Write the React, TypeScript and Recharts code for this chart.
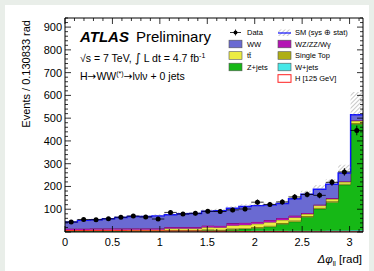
import React from 'react';
import { ComposedChart, Area, Line, Scatter, XAxis, YAxis, ErrorBar, ReferenceLine } from 'recharts';

// ---- data (24 bins of width pi/24 in delta-phi_ll) ----
const BIN = Math.PI / 24;
const binEdges = Array.from({ length: 25 }, (_, i) => i * BIN);

const wjets = [2, 2, 2, 2, 2, 2, 2, 2, 3, 3, 3, 3, 3, 4, 4, 5, 5, 5, 6, 6, 6, 7, 7, 8];
const zjets = [2, 2, 2, 2, 2, 2, 2, 2, 3, 3, 3, 5, 4, 7, 9, 12, 18, 29, 39, 59, 95, 123, 200, 465];
const stop = [1, 1, 2, 2, 2, 2, 2, 2, 2, 2, 2, 3, 3, 4, 4, 5, 5, 5, 5, 5, 5, 5, 5, 6];
const ttbar = [4, 4, 4, 4, 4, 4, 4, 4, 7, 7, 7, 10, 10, 14, 14, 14, 15, 14, 14, 9, 10, 10, 8, 9];
const vv = [6, 6, 6, 6, 6, 6, 6, 6, 7, 7, 7, 8, 8, 10, 10, 9, 10, 9, 8, 5, 5, 4, 3, 3];
const ww = [29, 36, 38, 42, 48, 52, 52, 55, 54, 58, 59, 62, 66, 65, 71, 71, 65, 63, 74, 82, 67, 61, 36, 24];
const uncUp = [4, 5, 5, 5, 6, 6, 6, 7, 7, 7, 7, 8, 8, 9, 10, 10, 10, 11, 13, 15, 18, 22, 36, 100];
const higgs = [6, 6, 6, 6, 6, 5, 5, 5, 4, 4, 4, 3, 3, 3, 2, 2, 2, 2, 1, 1, 1, 1, 1, 1];
const dataObs = [44, 55, 54, 58, 65, 70, 66, 57, 86, 79, 82, 91, 90, 97, 101, 131, 121, 132, 154, 165, 161, 218, 264, 446];

const xTicks = [0, 0.1, 0.2, 0.3, 0.4, 0.5, 0.6, 0.7, 0.8, 0.9, 1, 1.1, 1.2, 1.3, 1.4, 1.5, 1.6, 1.7, 1.8, 1.9, 2, 2.1, 2.2, 2.3, 2.4, 2.5, 2.6, 2.7, 2.8, 2.9, 3, 3.1];
const xLabels: Record<string, string> = { '0': '0', '0.5': '0.5', '1': '1', '1.5': '1.5', '2': '2', '2.5': '2.5', '3': '3' };
const yTicks = Array.from({ length: 48 }, (_, i) => i * 20);
const yLabels = [100, 200, 300, 400, 500, 600, 700, 800, 900];

// ---- layout ----
const W = 374;
const H = 271;
const M = { top: 18, right: 11, left: 0, bottom: 0 };
const YW = 65;
const XH = 39;
const PLOT_TOP = M.top;
const PLOT_RIGHT = W - M.right;
const FONT = 'Liberation Sans, Arial, Helvetica, sans-serif';
const SYM = 'DejaVu Sans, Liberation Sans, sans-serif';

const histRows = binEdges.map((x, i) => {
  const k = Math.min(i, 23);
  return {
    x,
    wjets: wjets[k],
    zjets: zjets[k],
    stop: stop[k],
    ttbar: ttbar[k],
    vv: vv[k],
    ww: ww[k],
    unc: uncUp[k],
    higgs: higgs[k],
  };
});

const points = dataObs.map((v, i) => ({
  x: binEdges[i] + BIN / 2,
  y: v,
  ey: Math.sqrt(v),
  ex: BIN / 2,
}));

const XTick = (props: any) => {
  const { x, y, payload } = props;
  const v = Number(payload.value);
  const key = String(Math.round(v * 10) / 10);
  const major = xLabels[key] !== undefined;
  const len = major ? 6 : 3;
  return (
    <g>
      <line x1={x} x2={x} y1={y} y2={y - len} stroke="#000" strokeWidth={0.8} />
      <line x1={x} x2={x} y1={PLOT_TOP} y2={PLOT_TOP + len} stroke="#000" strokeWidth={0.8} />
      {major && (
        <text x={x} y={y + 14} textAnchor="middle" fontSize={11} fontFamily={FONT} fill="#000">
          {xLabels[key]}
        </text>
      )}
    </g>
  );
};

const YTick = (props: any) => {
  const { x, y, payload } = props;
  const v = Number(payload.value);
  const major = v % 100 === 0;
  const len = major ? 6 : 3;
  return (
    <g>
      <line x1={x} x2={x + len} y1={y} y2={y} stroke="#000" strokeWidth={0.8} />
      <line x1={PLOT_RIGHT} x2={PLOT_RIGHT - len} y1={y} y2={y} stroke="#000" strokeWidth={0.8} />
      {yLabels.includes(v) && (
        <text x={x - 3} y={y + 4} textAnchor="end" fontSize={11} fontFamily={FONT} fill="#000">
          {v}
        </text>
      )}
    </g>
  );
};

const Dot = (props: any) => {
  const { cx, cy } = props;
  return <circle cx={cx} cy={cy} r={2.5} fill="#000" />;
};

const C = {
  ww: '#6a6ad2',
  tt: '#ecec42',
  z: '#16b816',
  vv: '#b414b4',
  st: '#aeae16',
  w: '#46e8e8',
  h: '#ff2020',
};

const legendLeft = [
  { label: 'WW', fill: C.ww, y: 44 },
  { label: 'tt\u0304', fill: C.tt, y: 55.5 },
  { label: 'Z+jets', fill: C.z, y: 67 },
];
const legendRight = [
  { label: 'WZ/ZZ/W\u03b3', fill: C.vv, y: 44 },
  { label: 'Single Top', fill: C.st, y: 55.5 },
  { label: 'W+jets', fill: C.w, y: 67 },
];

export default function App() {
  return (
    <div style={{ position: 'absolute', left: 0, top: 0, width: W, height: H, background: '#e9eee9', overflow: 'hidden' }}>
      <div style={{ position: 'absolute', left: 5, top: 5, width: 364, height: 266, background: '#fff' }} />
      <svg width={0} height={0} style={{ position: 'absolute' }}>
        <defs>
          <pattern id="hatch" patternUnits="userSpaceOnUse" width="3" height="3" patternTransform="rotate(45)">
            <line x1="0" y1="0" x2="0" y2="3" stroke="#8a8a8a" strokeWidth="0.9" />
          </pattern>
        </defs>
      </svg>
      <div style={{ position: 'absolute', left: 0, top: 0 }}>
        <ComposedChart width={W} height={H} data={histRows} margin={M}>
          <XAxis
            dataKey="x"
            type="number"
            domain={[0, Math.PI]}
            allowDataOverflow
            ticks={xTicks}
            interval={0}
            tickSize={0}
            tickMargin={0}
            tickLine={false}
            height={XH}
            tick={<XTick />}
            axisLine={{ stroke: '#000', strokeWidth: 1 }}
          />
          <YAxis
            type="number"
            domain={[0, 940]}
            allowDataOverflow
            ticks={yTicks}
            interval={0}
            tickSize={0}
            tickMargin={0}
            tickLine={false}
            width={YW}
            tick={<YTick />}
            axisLine={{ stroke: '#000', strokeWidth: 1 }}
          />
          <Area type="stepAfter" dataKey="wjets" stackId="s" fill={C.w} fillOpacity={1} stroke="#1a8a8a" strokeWidth={0.7} isAnimationActive={false} dot={false} activeDot={false} />
          <Area type="stepAfter" dataKey="zjets" stackId="s" fill={C.z} fillOpacity={1} stroke="#0a5a0a" strokeWidth={0.7} isAnimationActive={false} dot={false} activeDot={false} />
          <Area type="stepAfter" dataKey="stop" stackId="s" fill={C.st} fillOpacity={1} stroke="#4a4a08" strokeWidth={0.7} isAnimationActive={false} dot={false} activeDot={false} />
          <Area type="stepAfter" dataKey="ttbar" stackId="s" fill={C.tt} fillOpacity={1} stroke="#4a4a10" strokeWidth={0.7} isAnimationActive={false} dot={false} activeDot={false} />
          <Area type="stepAfter" dataKey="vv" stackId="s" fill={C.vv} fillOpacity={1} stroke="#4a084a" strokeWidth={0.7} isAnimationActive={false} dot={false} activeDot={false} />
          <Area type="stepAfter" dataKey="ww" stackId="s" fill={C.ww} fillOpacity={1} stroke="#1010ff" strokeWidth={1.4} isAnimationActive={false} dot={false} activeDot={false} />
          <Area type="stepAfter" dataKey="unc" stackId="s" fill="url(#hatch)" fillOpacity={1} stroke="none" isAnimationActive={false} dot={false} activeDot={false} />
          <Line type="stepAfter" dataKey="higgs" stroke={C.h} strokeWidth={1} dot={false} activeDot={false} isAnimationActive={false} />
          <Scatter data={points} dataKey="y" shape={<Dot />} isAnimationActive={false}>
            <ErrorBar dataKey="ey" direction="y" width={0} stroke="#000" strokeWidth={1} />
            <ErrorBar dataKey="ex" direction="x" width={0} stroke="#000" strokeWidth={0.8} />
          </Scatter>
          <ReferenceLine y={940} stroke="#000" strokeWidth={1} ifOverflow="extendDomain" />
          <ReferenceLine x={Math.PI} stroke="#000" strokeWidth={1} />
        </ComposedChart>
      </div>
      <svg width={W} height={H} style={{ position: 'absolute', left: 0, top: 0, pointerEvents: 'none' }} fontFamily={FONT}>
        <text transform="translate(30,20) rotate(-90)" textAnchor="end" fontSize={11} fill="#000">
          Events / 0.130833 rad
        </text>
        <text x={362} y={263} textAnchor="end" fontSize={11.5} fill="#000">
          <tspan fontStyle="italic">{'\u0394\u03c6'}</tspan>
          <tspan fontSize={7} dy={3}>ll</tspan>
          <tspan dy={-3}> [rad]</tspan>
        </text>
        <text x={80} y={42} fontSize={15} fill="#000">
          <tspan fontWeight="bold" fontStyle="italic">ATLAS</tspan>
          <tspan dx={7}>Preliminary</tspan>
        </text>
        <text x={80} y={62} fontSize={10.5} fill="#000">
          {'\u221as = 7 TeV, '}
          <tspan fontFamily={SYM} fontSize={12}>{'\u222b'}</tspan>
          {' L dt = 4.7 fb'}
          <tspan fontSize={7} dy={-4}>-1</tspan>
        </text>
        <text x={80} y={80} fontSize={10.5} fill="#000">
          {'H'}
          <tspan fontFamily={SYM}>{'\u2192'}</tspan>
          {'WW'}
          <tspan fontSize={7} dy={-4}>(*)</tspan>
          <tspan dy={4} fontFamily={SYM}>{'\u2192'}</tspan>
          {'l\u03bdl\u03bd + 0 jets'}
        </text>
        {/* legend */}
        <line x1={230} x2={241} y1={32.5} y2={32.5} stroke="#000" strokeWidth={0.8} />
        <line x1={235.5} x2={235.5} y1={29.5} y2={35.5} stroke="#000" strokeWidth={0.8} />
        <circle cx={235.5} cy={32.5} r={2} fill="#000" />
        <text x={247} y={35.2} fontSize={7.5} fill="#000">Data</text>
        {legendLeft.map((l) => (
          <g key={l.label}>
            <rect x={229} y={l.y - 3.8} width={13} height={7.6} fill={l.fill} stroke="#555" strokeWidth={0.6} />
            <text x={247} y={l.y + 2.7} fontSize={7.5} fill="#000">{l.label}</text>
          </g>
        ))}
        <rect x={278} y={29.5} width={13} height={6.5} fill="url(#hatch)" />
        <line x1={278} x2={291} y1={33} y2={33} stroke="#1010ff" strokeWidth={1.2} />
        <text x={295} y={35.2} fontSize={7.5} fill="#000">{'SM (sys \u2295 stat)'}</text>
        {legendRight.map((l) => (
          <g key={l.label}>
            <rect x={278} y={l.y - 3.8} width={13} height={7.6} fill={l.fill} stroke="#555" strokeWidth={0.6} />
            <text x={295} y={l.y + 2.7} fontSize={7.5} fill="#000">{l.label}</text>
          </g>
        ))}
        <rect x={278} y={74.7} width={13} height={7.6} fill="#fff" stroke={C.h} strokeWidth={1} />
        <text x={295} y={81.2} fontSize={7.5} fill="#000">H [125 GeV]</text>
      </svg>
    </div>
  );
}
